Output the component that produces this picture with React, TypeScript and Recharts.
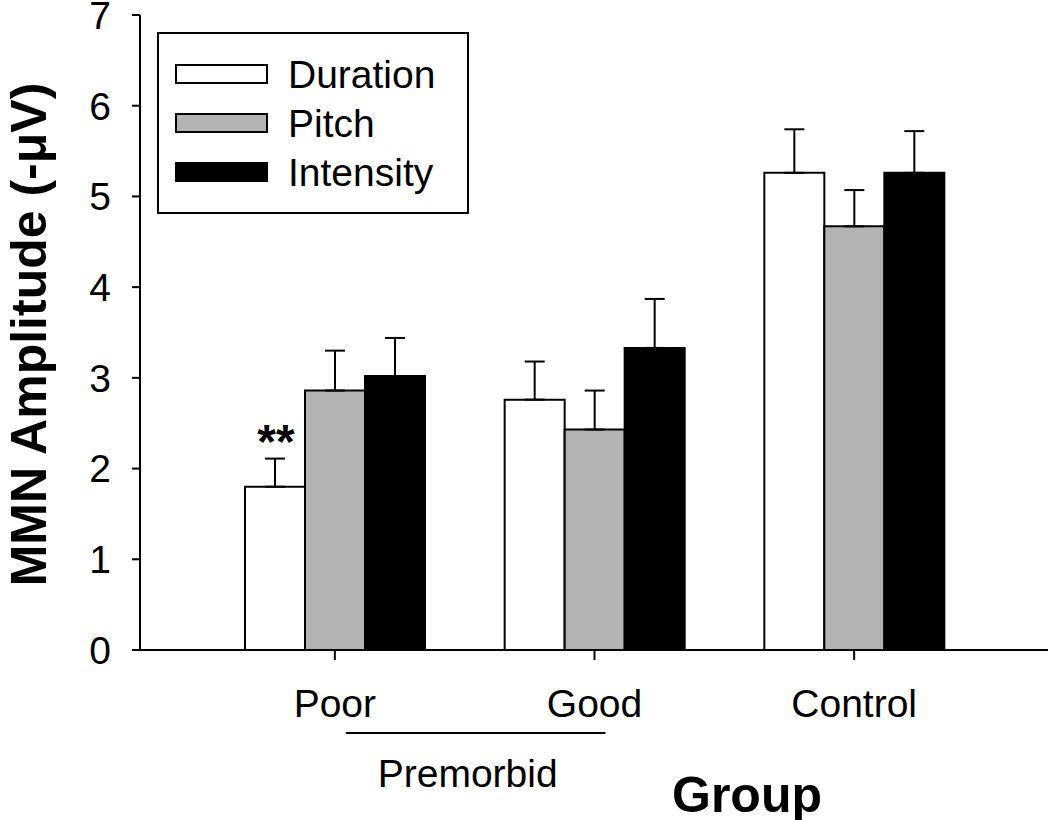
import { Bar, BarChart, ErrorBar, LabelList, Legend, XAxis, YAxis } from 'recharts';

const FONT = "'Liberation Sans', Arial, Helvetica, sans-serif";

// valores
const groups = ['Poor', 'Good', 'Control'];
const parentLabels = ['Premorbid', 'Premorbid', ''];
const seriesNames = ['Duration', 'Pitch', 'Intensity'];
const duration = [1.8, 2.76, 5.26];
const pitch = [2.86, 2.43, 4.67];
const intensity = [3.02, 3.33, 5.26];
const durationSe = [0.31, 0.42, 0.48];
const pitchSe = [0.44, 0.43, 0.4];
const intensitySe = [0.42, 0.54, 0.46];
const durationMarks = ['**', '', ''];
const yTicks = [0, 1, 2, 3, 4, 5, 6, 7];

const PAD_L = 65;
const PAD_R = 64;

const data = groups.map((g, i) => ({
  group: g,
  duration: duration[i],
  pitch: pitch[i],
  intensity: intensity[i],
  durationErr: [0, durationSe[i]],
  pitchErr: [0, pitchSe[i]],
  intensityErr: [0, intensitySe[i]],
  mark: durationMarks[i],
}));

function GroupTick(props: any) {
  const { x, y, payload, index, width, visibleTicksCount } = props;
  const band = width && visibleTicksCount ? (width - PAD_L - PAD_R) / visibleTicksCount : 260;
  const parent = parentLabels[index];
  const startsRun =
    !!parent && parentLabels[index + 1] === parent && (index === 0 || parentLabels[index - 1] !== parent);
  return (
    <g>
      <text x={x} y={y + 55} textAnchor="middle" fontSize={39} fill="#000" fontFamily={FONT}>
        {payload.value}
      </text>
      {startsRun && (
        <>
          <line x1={x + 11} x2={x + 11 + band} y1={y + 71} y2={y + 71} stroke="#000" strokeWidth={2} />
          <text x={x + band / 2 + 3} y={y + 125} textAnchor="middle" fontSize={39} fill="#000" fontFamily={FONT}>
            {parent}
          </text>
        </>
      )}
    </g>
  );
}

function LegendBox({ payload }: any) {
  const items = [...(payload || [])].sort(
    (a: any, b: any) => seriesNames.indexOf(a.value) - seriesNames.indexOf(b.value),
  );
  return (
    <svg width={312} height={182} style={{ display: 'block' }}>
      <rect x={1} y={1} width={310} height={180} fill="#fff" stroke="#000" strokeWidth={2} />
      {items.map((e: any, i: number) => (
        <g key={e.value}>
          <rect x={19} y={33 + i * 49} width={91} height={18} fill={e.color} stroke="#000" strokeWidth={2} />
          <text x={131} y={56 + i * 49} fontSize={39} fill="#000" fontFamily={FONT}>
            {e.value}
          </text>
        </g>
      ))}
    </svg>
  );
}

const axisLine = { stroke: '#000', strokeWidth: 2 };

export default function App() {
  return (
    <div style={{ position: 'absolute', left: 0, top: 0, background: '#fff' }}>
      <BarChart
        width={1050}
        height={820}
        data={data}
        margin={{ top: 15, right: 2, bottom: 0, left: 0 }}
        barCategoryGap={40}
        barGap={0}
      >
        <XAxis
          dataKey="group"
          height={170}
          padding={{ left: PAD_L, right: PAD_R }}
          axisLine={axisLine}
          tickLine={axisLine}
          tickSize={10}
          tick={<GroupTick />}
          interval={0}
          label={(p: any) => {
            const vb = p.viewBox || { x: 140, y: 650, width: 908 };
            return (
              <text
                x={vb.x + vb.width / 2 + 153}
                y={vb.y + 162}
                textAnchor="middle"
                fontSize={50}
                fontWeight="bold"
                fill="#000"
                fontFamily={FONT}
              >
                Group
              </text>
            );
          }}
        />
        <XAxis xAxisId="top" orientation="top" dataKey="group" height={0} tick={false} tickLine={false} axisLine={axisLine} />
        <YAxis
          width={140}
          domain={[0, 7]}
          ticks={yTicks}
          interval={0}
          axisLine={axisLine}
          tickLine={axisLine}
          tickSize={8}
          tickMargin={21}
          tick={{ fontSize: 39, fill: '#000', fontFamily: FONT }}
          label={(p: any) => {
            const vb = p.viewBox || { x: 0, y: 15, width: 140, height: 635 };
            const cx = 46;
            const cy = vb.y + vb.height / 2 + 2;
            return (
              <text
                x={cx}
                y={cy}
                transform={`rotate(-90, ${cx}, ${cy})`}
                textAnchor="middle"
                fontSize={50}
                fontWeight="bold"
                fill="#000"
                fontFamily={FONT}
              >
                MMN Amplitude (-μV)
              </text>
            );
          }}
        />
        <YAxis yAxisId="right" orientation="right" width={0} domain={[0, 7]} tick={false} tickLine={false} axisLine={axisLine} />
        <Legend
          layout="vertical"
          align="center"
          verticalAlign="middle"
          content={<LegendBox />}
          wrapperStyle={{ left: 157, top: 32, width: 312, height: 182 }}
        />
        <Bar dataKey="duration" name="Duration" fill="#ffffff" stroke="#000" strokeWidth={2} isAnimationActive={false}>
          <ErrorBar dataKey="durationErr" width={10} stroke="#000" strokeWidth={2} />
          <LabelList
            dataKey="mark"
            content={(p: any) =>
              p.value ? (
                <text
                  x={p.x + p.width / 2 + 1}
                  y={p.y - 29}
                  textAnchor="middle"
                  fontSize={48}
                  fontWeight="bold"
                  fill="#000"
                  fontFamily={FONT}
                >
                  {p.value}
                </text>
              ) : null
            }
          />
        </Bar>
        <Bar dataKey="pitch" name="Pitch" fill="#b3b3b3" stroke="#000" strokeWidth={2} isAnimationActive={false}>
          <ErrorBar dataKey="pitchErr" width={10} stroke="#000" strokeWidth={2} />
        </Bar>
        <Bar dataKey="intensity" name="Intensity" fill="#000000" stroke="#000" strokeWidth={2} isAnimationActive={false}>
          <ErrorBar dataKey="intensityErr" width={10} stroke="#000" strokeWidth={2} />
        </Bar>
      </BarChart>
    </div>
  );
}
